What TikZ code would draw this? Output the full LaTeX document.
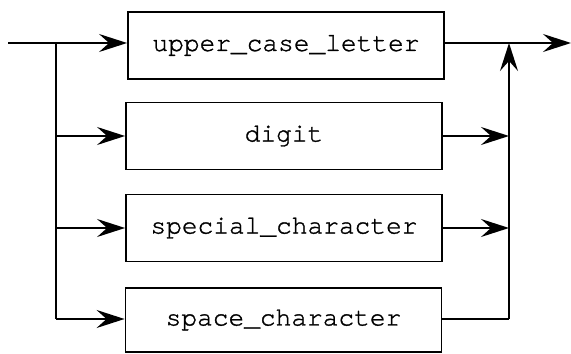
\documentclass[tikz,border=0pt]{standalone}
\usepackage{fontspec}
\newfontfamily\railfont[FakeBold=1.2]{TeX Gyre Cursor}
\usetikzlibrary{arrows.meta}
\begin{document}
\begin{tikzpicture}[x=0.02cm,y=-0.02cm,
  rail/.style={line width=1.1pt},
  tip/.style={-{Stealth[length=5.6mm,width=3.6mm,inset=2mm]}},
  box/.style={draw,line width=1.1pt,minimum width=6.32cm,minimum height=1.34cm,
    inner sep=0pt,font=\fontsize{14.9}{18}\selectfont\railfont}]
\useasboundingbox (0,0) rectangle (571,354);

% alternatives of the syntax rule
\node[box] (upper)   at (286,45.5) {upper\_case\_letter};
\node[box] (digit)   at (284,136)  {digit};
\node[box] (special) at (284,228)  {special\_character};
\node[box,minimum height=1.28cm] (space) at (283.5,320) {space\_character};

% entry, fork, join and exit points of the rail
\coordinate (start) at (8,43);
\coordinate (fork)  at (56,43);
\coordinate (forkend) at (56,319);
\coordinate (join)  at (509,43);
\coordinate (joinend) at (509,319);
\coordinate (exit)  at (571,43);

% left side: fork into the four branches
\draw[rail] (start) -- (fork) -- (forkend);
\draw[rail,tip] (fork) -- (upper.west |- fork);
\draw[rail,tip] (fork |- digit) -- (digit.west);
\draw[rail,tip] (fork |- special) -- (special.west);
\draw[rail,tip] (forkend) -- (space.west |- forkend);

% right side: merge back into the exit rail
\draw[rail,tip] (upper.east |- join) -- (exit);
\draw[rail,tip] (digit.east) -- (join |- digit);
\draw[rail,tip] (special.east) -- (join |- special);
\draw[rail] (space.east |- joinend) -- (joinend);
\draw[rail,tip] (joinend) -- (join);
\end{tikzpicture}
\end{document}
